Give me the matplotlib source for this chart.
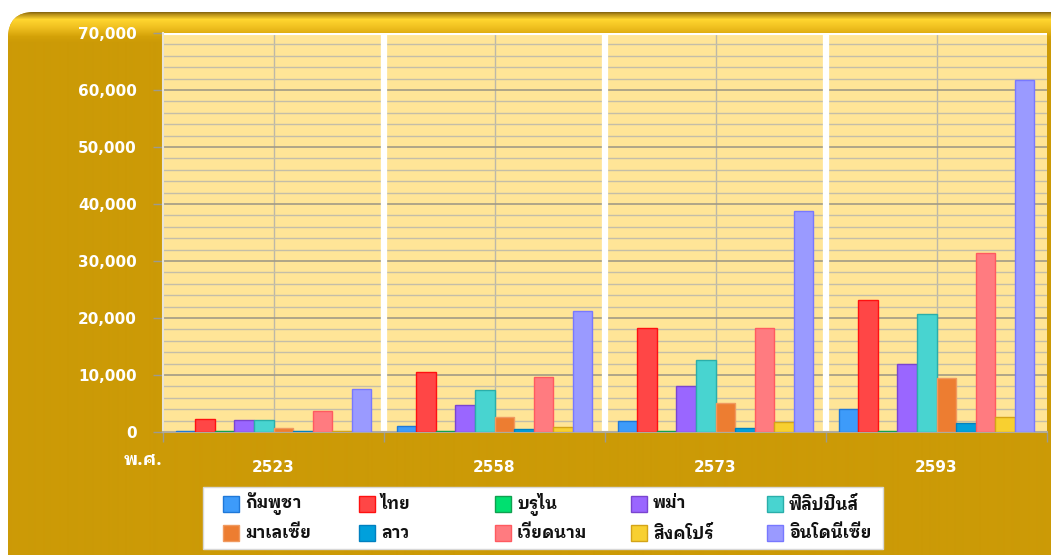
"""ASEAN population projection bar chart (Thai labels), gold panel style."""

import matplotlib
matplotlib.use("Agg")
import matplotlib.pyplot as plt
import numpy as np
from matplotlib.colors import to_rgb
from matplotlib.patches import FancyBboxPatch, Rectangle
from matplotlib.ticker import FuncFormatter, MultipleLocator

THAI_FONT = ["IBM Plex Sans Thai Looped", "DejaVu Sans"]

YEARS = ["2523", "2558", "2573", "2593"]
COUNTRIES = ["กัมพูชา", "ไทย", "บรูไน", "พม่า", "ฟิลิปปินส์",
             "มาเลเซีย", "ลาว", "เวียดนาม", "สิงคโปร์", "อินโดนีเซีย"]

# values per country, one per year (thousands of people)
cambodia = [200, 1100, 1850, 4000]
thailand = [2300, 10600, 18300, 23100]
brunei = [100, 150, 250, 250]
burma = [2050, 4700, 8050, 11900]
philippines = [2050, 7300, 12600, 20700]
malaysia = [650, 2700, 5100, 9500]
laos = [150, 450, 700, 1650]
vietnam = [3750, 9700, 18300, 31400]
singapore = [150, 900, 1800, 2600]
indonesia = [7550, 21200, 38800, 61800]

SERIES = [cambodia, thailand, brunei, burma, philippines,
          malaysia, laos, vietnam, singapore, indonesia]

FACE = ["#3d9bfa", "#ff4646", "#00e070", "#9a66ff", "#48d4d0",
        "#ed7d31", "#00a0dc", "#ff7b80", "#f8d030", "#9a9aff"]
EDGE = ["#1f78d8", "#ff1010", "#10a050", "#7a44d0", "#2aaeaa",
        "#f09a60", "#0080c0", "#ff5a60", "#d4a418", "#7878ff"]

W, H = 1051, 555
GOLD = "#cc9a06"

fig = plt.figure(figsize=(W / 100, H / 100), dpi=100)
fig.patch.set_facecolor("white")

# gold rounded panel behind everything (pixel coords, y down)
bg = fig.add_axes([0, 0, 1, 1], zorder=-10)
bg.set_xlim(0, W)
bg.set_ylim(H, 0)
bg.axis("off")
panel = FancyBboxPatch((8, 12), W + 40, H + 40,
                       boxstyle="round,pad=0,rounding_size=26",
                       facecolor=GOLD, edgecolor="none", zorder=0)
bg.add_patch(panel)
ys = np.arange(H)
stops_y = [12, 14, 19, 27, 36, 42]
stops_c = [to_rgb(c) for c in ["#8a6a10", "#b89018", "#ffd630", "#f0c020", "#d4a208", GOLD]]
grad = np.stack([np.interp(ys, stops_y, [c[i] for c in stops_c]) for i in range(3)], axis=-1)
grad = np.repeat(grad[:, None, :], 2, axis=1)
im = bg.imshow(grad, extent=[0, W, H, 0], aspect="auto",
               interpolation="bilinear", zorder=1)
im.set_clip_path(panel)
bg.set_xlim(0, W)
bg.set_ylim(H, 0)

ax = fig.add_axes([163 / W, (H - 432) / H, 884 / W, 399 / H])
ax.set_facecolor("#ffe597")

n_groups = len(YEARS)
n_series = len(SERIES)
bar_w = 0.885 / n_series
x = np.arange(n_groups)
for k, vals in enumerate(SERIES):
    ax.bar(x + (k - (n_series - 1) / 2) * bar_w, vals, width=bar_w,
           color=FACE[k], edgecolor=EDGE[k], linewidth=1.0, zorder=3)

ax.set_xlim(-0.5, n_groups - 0.5)
ax.set_ylim(0, 70000)
ax.yaxis.set_major_locator(MultipleLocator(10000))
ax.yaxis.set_minor_locator(MultipleLocator(2000))
ax.yaxis.set_major_formatter(FuncFormatter(lambda v, _: f"{v:,.0f}"))
ax.grid(axis="y", which="minor", color="#c4bea8", linewidth=1.0, zorder=1)
ax.grid(axis="y", which="major", color="#a29b86", linewidth=1.2, zorder=1)
for xc in x:
    ax.axvline(xc, color="#bdb8a8", linewidth=1.0, zorder=1)
for xb in x[1:] - 0.5:
    ax.axvline(xb, color="white", linewidth=4.5, zorder=2)
ax.axhline(70000, color="white", linewidth=3, zorder=2)

ax.set_xticks(x)
ax.set_xticklabels(YEARS)
ax.set_xticks(np.arange(n_groups + 1) - 0.5, minor=True)
ax.tick_params(axis="x", which="major", length=0, pad=20,
               labelcolor="white", labelsize=11)
ax.tick_params(axis="x", which="minor", length=7, color="#9c9a90", width=1)
ax.tick_params(axis="y", which="major", length=7, color="#9c9a90", width=1,
               pad=12, labelcolor="white", labelsize=11)
ax.tick_params(axis="y", which="minor", length=0)
for lab in ax.get_xticklabels() + ax.get_yticklabels():
    lab.set_fontweight("bold")

for side in ["top", "right"]:
    ax.spines[side].set_visible(False)
ax.spines["left"].set_color("#e8e4d8")
ax.spines["left"].set_linewidth(1.5)
ax.spines["bottom"].set_color("#b0ab9c")
ax.spines["bottom"].set_linewidth(1.5)

bg.text(143, 460, "พ.ศ.", family=THAI_FONT, fontweight="bold",
        fontsize=13, color="white", ha="center", va="center")

# legend: 2 rows x 5 fixed-width columns, row-major like the original
bg.add_patch(Rectangle((203, 487), 680, 62, facecolor="white",
                       edgecolor="#d8d8d8", linewidth=1.0, zorder=2))
for k, name in enumerate(COUNTRIES):
    row, col = divmod(k, 5)
    lx = 223 + 136 * col
    ly = 504 + 29 * row
    bg.add_patch(Rectangle((lx, ly - 8), 16, 16, facecolor=FACE[k],
                           edgecolor=EDGE[k], linewidth=1.0, zorder=3))
    bg.text(lx + 22, ly, name, family=THAI_FONT, fontweight="bold",
            fontsize=12, color="#111111", ha="left", va="center", zorder=3)

fig.savefig("out.png", dpi=100, facecolor=fig.get_facecolor())
